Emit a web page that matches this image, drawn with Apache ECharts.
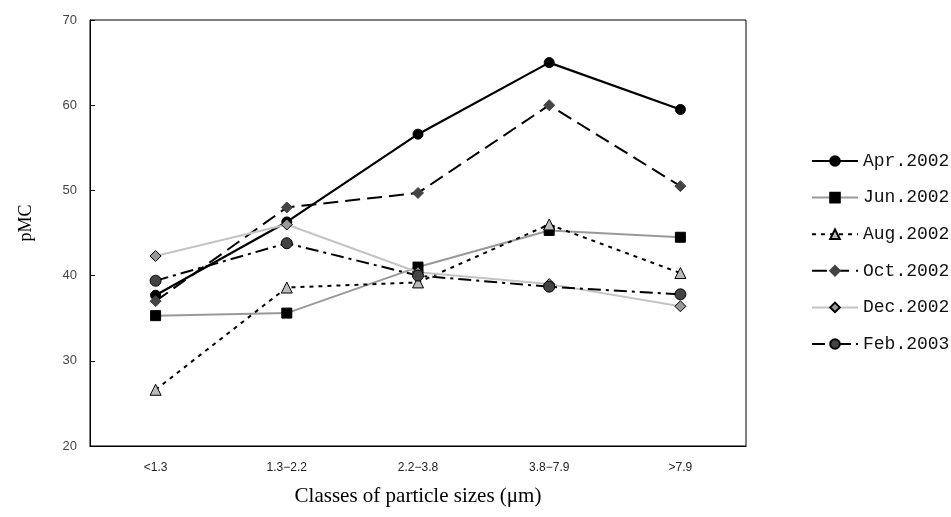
<!DOCTYPE html>
<html>
<head>
<meta charset="utf-8">
<script src="https://cdn.jsdelivr.net/npm/echarts@6/dist/echarts.min.js"></script>
<style>html,body{margin:0;padding:0;background:#fff}#c{width:951px;height:517px}</style>
</head>
<body>
<div id="c"></div>
<script>
const categories = ['<1.3', '1.3\u22122.2', '2.2\u22123.8', '3.8\u22127.9', '>7.9'];
const yTicks = { min: 20, max: 70, interval: 10 };
const seriesNames = ['Apr.2002', 'Jun.2002', 'Aug.2002', 'Oct.2002', 'Dec.2002', 'Feb.2003'];
const apr2002 = [37.7, 46.3, 56.6, 65.0, 59.5];
const jun2002 = [35.3, 35.6, 41.0, 45.3, 44.5];
const aug2002 = [26.6, 38.6, 39.2, 46.0, 40.3];
const oct2002 = [37.0, 48.0, 49.7, 60.0, 50.5];
const dec2002 = [42.3, 46.0, 40.4, 39.0, 36.4];
const feb2003 = [39.4, 43.8, 40.0, 38.7, 37.8];

const styles = [
  { line: { color: '#000', width: 2.2, type: 'solid' }, symbol: 'circle', size: 10, item: { color: '#000', borderColor: '#000', borderWidth: 1 } },
  { line: { color: '#999', width: 2, type: 'solid' }, symbol: 'rect', size: 10, item: { color: '#000', borderColor: '#000', borderWidth: 1 } },
  { line: { color: '#000', width: 2, type: [4, 5] }, symbol: 'triangle', size: 11, item: { color: '#bbb', borderColor: '#000', borderWidth: 1 } },
  { line: { color: '#000', width: 2, type: [15, 7] }, symbol: 'diamond', size: 11, item: { color: '#444', borderColor: '#444', borderWidth: 1 } },
  { line: { color: '#c4c4c4', width: 2, type: 'solid' }, symbol: 'diamond', size: 11, item: { color: '#999', borderColor: '#000', borderWidth: 1 } },
  { line: { color: '#000', width: 2, type: [13, 5, 3, 5] }, symbol: 'circle', size: 11, item: { color: '#444', borderColor: '#000', borderWidth: 1 } }
];
const dataArr = [apr2002, jun2002, aug2002, oct2002, dec2002, feb2003];

const chart = echarts.init(document.getElementById('c'), null, { renderer: 'canvas' });
chart.setOption({
  animation: false,
  backgroundColor: '#fff',
  grid: { left: 90, right: 205, top: 20, bottom: 71, show: true, borderColor: '#000', borderWidth: 1, containLabel: false },
  legend: {
    orient: 'vertical', left: 806, top: 147,
    itemWidth: 46, itemHeight: 12, itemGap: 18.6,
    textStyle: { fontFamily: 'Liberation Mono', fontSize: 18, color: '#111' },
    data: seriesNames
  },
  xAxis: {
    type: 'category', data: categories, boundaryGap: true,
    axisLine: { lineStyle: { color: '#000', width: 1 } },
    axisTick: { inside: true, length: 5, alignWithLabel: false, lineStyle: { color: '#000' } },
    axisLabel: { fontFamily: 'Liberation Sans', fontSize: 12, color: '#222', margin: 16 },
    name: 'Classes of particle sizes (\u03bcm)', nameLocation: 'middle', nameGap: 40,
    nameTextStyle: { fontFamily: 'Liberation Serif', fontSize: 21, color: '#000' }
  },
  yAxis: {
    type: 'value', min: yTicks.min, max: yTicks.max, interval: yTicks.interval,
    splitLine: { show: false },
    axisLine: { show: true, lineStyle: { color: '#000', width: 1 } },
    axisTick: { show: true, inside: true, length: 5, lineStyle: { color: '#000' } },
    axisLabel: { fontFamily: 'Liberation Sans', fontSize: 13, color: '#444', margin: 13 },
    name: 'pMC', nameLocation: 'middle', nameGap: 55,
    nameTextStyle: { fontFamily: 'Liberation Serif', fontSize: 18, color: '#000', padding: [0, 0, 0, 20] }
  },
  series: seriesNames.map((n, i) => ({
    name: n, type: 'line', data: dataArr[i],
    symbol: styles[i].symbol, symbolSize: styles[i].size, showSymbol: true,
    lineStyle: styles[i].line, itemStyle: styles[i].item,
    z: 2 + i
  }))
});
</script>
</body>
</html>
